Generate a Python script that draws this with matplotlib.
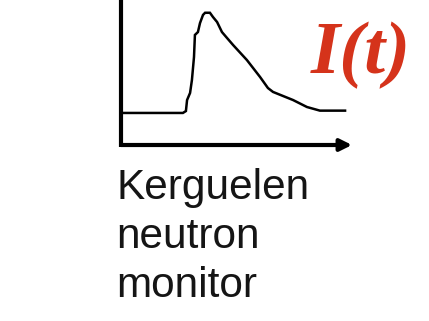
import matplotlib
matplotlib.use("Agg")
import matplotlib.pyplot as plt

# Neutron monitor count-rate profile (arbitrary units)
time = [0, 26.8, 28.1, 28.6, 29.9, 30.7, 31.6, 32.0, 33.3, 34.2, 35.5, 36.4,
        38.5, 39.8, 41.6, 43.7, 45.9, 48.5, 54.5, 60.2, 63.6, 65.8, 74.5,
        80.5, 86.1, 97.0]
intensity = [22.1, 22.1, 23.4, 31.0, 35.9, 44.8, 60.7, 75.9, 77.9, 84.1, 89.7,
             91.2, 91.2, 88.3, 84.8, 77.9, 73.8, 69.0, 58.6, 46.9, 39.3, 36.6,
             31.0, 26.2, 23.7, 23.7]

label_text = "Kerguelen\nneutron\nmonitor"
symbol_text = "I(t)"

fig = plt.figure(figsize=(4.29, 3.21), dpi=100)
ax = fig.add_axes([121 / 429, 1 - 145 / 321, (352 - 121) / 429, 145 / 321])
ax.set_xlim(0, 100)
ax.set_ylim(0, 100)
ax.axis("off")

ax.plot(time, intensity, color="black", lw=1.8, solid_joinstyle="miter")

# axes drawn as thick lines, x axis with arrow head
ax.annotate("", xy=(1.0, 0), xytext=(0, 0), xycoords="axes fraction",
            arrowprops=dict(arrowstyle="-|>,head_length=0.7,head_width=0.35",
                            color="black", lw=3, shrinkA=0, shrinkB=0),
            annotation_clip=False)
ax.plot([0, 0], [-1.5, 100], color="black", lw=3, transform=ax.transData,
        clip_on=False, solid_capstyle="butt")

fig.text(116 / 429, 1 - 297 / 321, label_text, fontsize=30.5,
         family="Liberation Sans", color="#151515", ha="left", va="baseline",
         linespacing=1.29)
fig.text(311 / 429, 1 - 73 / 321, symbol_text, fontsize=54,
         family="Liberation Serif", fontweight="bold", fontstyle="italic",
         color="#d5331b", ha="left", va="baseline")

fig.savefig("out.png", dpi=100, facecolor="white")
